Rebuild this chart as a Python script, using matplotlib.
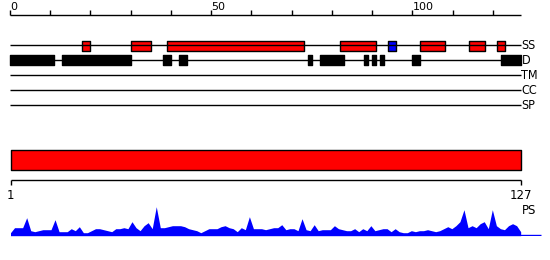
import matplotlib
matplotlib.use("Agg")
import matplotlib.pyplot as plt

# sequence / track data
seq_len = 127
tracks = ["SS", "D", "TM", "CC", "SP"]
ruler_ticks = list(range(0, 121, 10))
ruler_labels = [0, 50, 100]

helix = [(18, 20), (30, 35), (39, 73), (82, 91), (102, 108), (114, 118), (121, 123)]
blue_ss = [(94, 96)]
disorder = [(0, 11), (13, 30), (38, 40), (42, 44), (74, 75), (77, 83),
            (88, 89), (90, 91), (92, 93), (100, 102), (122, 127)]

# per-residue PS profile (residues 1..127)
ps = [3, 8, 8, 8, 18, 5, 4, 5, 6, 6,
      6, 16, 4, 4, 4, 7, 5, 9, 3, 3,
      5, 7, 7, 6, 5, 4, 7, 7, 8, 7,
      14, 8, 5, 10, 13, 7, 29, 8, 8, 9,
      10, 10, 10, 9, 7, 6, 5, 3, 5, 7,
      7, 7, 9, 10, 8, 7, 4, 8, 6, 19,
      7, 7, 7, 6, 7, 8, 8, 11, 6, 7,
      7, 5, 17, 6, 5, 11, 5, 6, 6, 6,
      10, 7, 6, 5, 5, 7, 4, 7, 5, 10,
      5, 6, 7, 7, 4, 7, 4, 3, 3, 5,
      4, 5, 5, 6, 5, 4, 5, 7, 9, 7,
      10, 14, 26, 8, 10, 8, 12, 14, 7, 26,
      10, 7, 6, 10, 12, 10, 4]
residues = list(range(1, seq_len + 1))

fig = plt.figure(figsize=(5.5, 2.6), dpi=100)

# top panel: ruler + tracks (y in pixel rows)
top = fig.add_axes([0, 0, 1, 1])
top.set_xlim(-10 / 4.024, 540 / 4.024)
top.set_ylim(260, 0)
top.axis("off")

top.hlines(14.7, 0, seq_len, color="black", lw=1)
top.vlines(ruler_ticks, 10.3, 14.7, color="black", lw=1)
for t in ruler_labels:
    top.text(t, 12, str(t), ha="left", va="bottom", fontsize=8, color="black")

for k, name in enumerate(tracks):
    y = 45 + 15 * k
    top.hlines(y, 0, seq_len, color="black", lw=1)
    top.text(seq_len + 0.1, y + 0.5, name, ha="left", va="center", fontsize=9,
             fontstretch="condensed")

top.broken_barh([(s, e - s) for s, e in helix], (40.5, 10), facecolor="#ff0000",
                edgecolor="black", lw=1)
top.broken_barh([(s, e - s) for s, e in blue_ss], (40.5, 10), facecolor="#0000ff",
                edgecolor="black", lw=1)
top.broken_barh([(s, e - s) for s, e in disorder], (55.3, 10), facecolor="black",
                edgecolor="black", lw=1)

# bottom panel: whole-sequence bar + ruler 1..127
bot = fig.add_axes([0, 0, 1, 1])
bot.patch.set_alpha(0)
bot.set_xlim(1 - 10.5 / 4.049, 1 + 539.5 / 4.049)
bot.set_ylim(260, 0)
bot.axis("off")

bot.broken_barh([(1, seq_len - 1)], (150.3, 20), facecolor="#ff0000",
                edgecolor="black", lw=1)
bot.hlines(180.3, 1, seq_len, color="black", lw=1)
bot.vlines([1, seq_len], 180.3, 185, color="black", lw=1)
bot.text(1, 195.5, "1", ha="center", va="center", fontsize=8.5)
bot.text(seq_len, 195.5, str(seq_len), ha="center", va="center", fontsize=8.5)
bot.text(seq_len + 0.2, 211, "PS", ha="left", va="center", fontsize=8.5)

# PS profile
prof = fig.add_axes([0, 1 - 235.7 / 260, 1, 0.2])
prof.patch.set_alpha(0)
prof.set_xlim(1 - 10.5 / 4.049, 1 + 539.5 / 4.049)
prof.set_ylim(0, 52)
prof.axis("off")
prof.fill_between(residues, ps, 0, color="#0000ff", lw=0)
prof.hlines(0.5, 1, seq_len + 5, color="#0000ff", lw=1)

fig.savefig("out.png", dpi=100)
